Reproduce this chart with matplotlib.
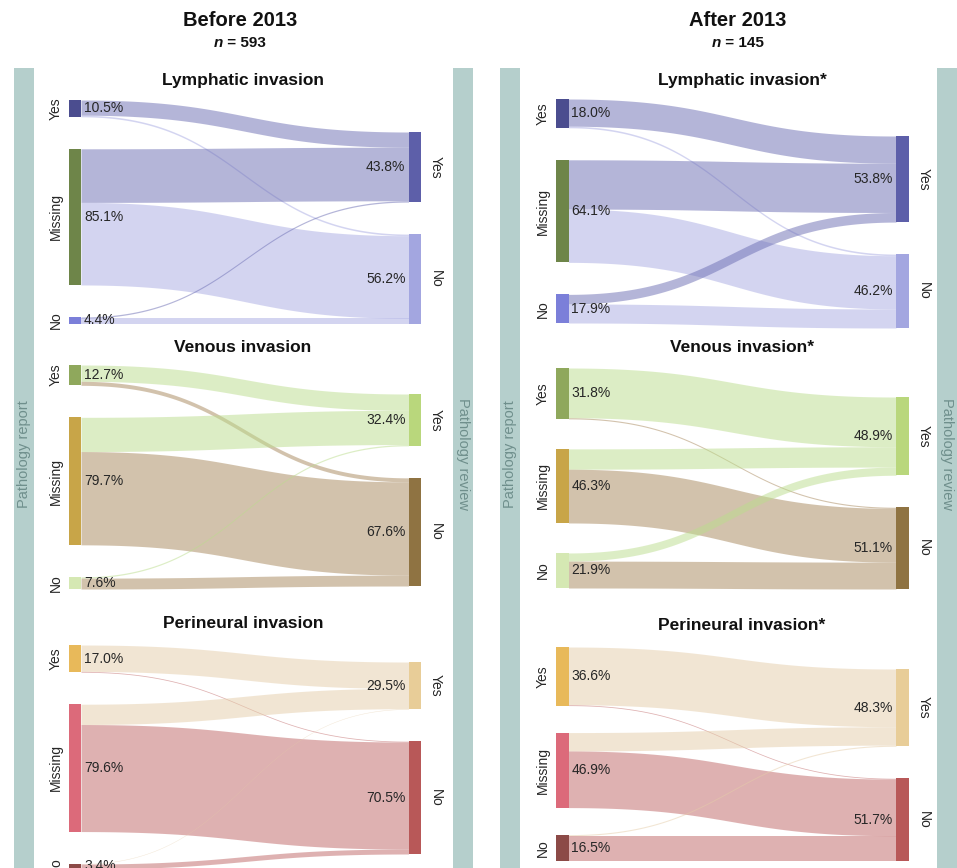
import numpy as np
import matplotlib
matplotlib.use("Agg")
import matplotlib.pyplot as plt
from matplotlib.offsetbox import TextArea, HPacker, AnnotationBbox

plt.rcParams['font.family'] = ['Liberation Sans', 'DejaVu Sans']

# ---------------- data ----------------
report_cats = ["Yes", "Missing", "No"]      # pathology report (left)
review_cats = ["Yes", "No"]                 # pathology review (right)

periods = ["Before 2013", "After 2013"]
period_n = [593, 145]
invasion_names = ["Lymphatic invasion", "Venous invasion", "Perineural invasion"]

# flows in % : rows = report Yes/Missing/No, cols = review Yes/No
lymph_before = [[9.5, 1.0], [33.5, 51.6], [0.8, 3.6]]
lymph_after = [[17.0, 1.0], [30.8, 33.3], [6.0, 11.9]]
venous_before = [[10.2, 2.5], [21.4, 58.3], [0.8, 6.8]]
venous_after = [[31.1, 0.7], [12.7, 33.6], [5.1, 16.8]]
perineural_before = [[16.5, 0.5], [12.7, 66.9], [0.3, 3.1]]
perineural_after = [[36.1, 0.5], [11.5, 35.4], [0.7, 15.8]]

flows = [[lymph_before, lymph_after],
         [venous_before, venous_after],
         [perineural_before, perineural_after]]
significant = [[False, True], [False, True], [False, True]]

# ---------------- styles ----------------
left_node_colors = [["#4b4d8f", "#6e8549", "#7b7fd9"],
                    ["#8fa85c", "#c8a548", "#d5e8b3"],
                    ["#e8b95a", "#dc6a7a", "#8c4a47"]]
right_node_colors = [["#5d5fa9", "#a3a6e0"],
                     ["#b9d77c", "#8f7342"],
                     ["#e8cd98", "#b85858"]]
link_colors = [["#6b6db3", "#a9abe3"],
               ["#bbdd8d", "#a7875b"],
               ["#e5cda9", "#bf6565"]]
band_color = "#b5cfcc"
band_text = "#6f8f8c"
txt = "#262626"

W, H = 957, 868
fig = plt.figure(figsize=(W / 100, H / 100), dpi=100)
ax = fig.add_axes([0, 0, 1, 1])
ax.set_xlim(0, W)
ax.set_ylim(H, 0)
ax.axis("off")

# layout (pixel space)
scale = 1.6
node_w = 12.5
panel_left_x = [68.5, 556]
panel_right_x = [408.5, 896]
panel_title_x = [240, 738]
panel_sub_x = [243, 742]
bands = [(14, 34, 453, 473), (500, 520, 937, 957)]
sub_y = [[80, 80], [348, 348], [623, 626]]
left_top = [[100, 99], [365, 368], [645, 647]]
right_top = [[132, 136], [394, 397], [662, 669]]
left_gap = [[32, 32], [32, 30], [32, 27]]
right_gap = 32

# bands
for p in range(2):
    lb0, lb1, rb0, rb1 = bands[p]
    ax.fill_between([lb0, lb1], 68, H, color=band_color, lw=0, zorder=0)
    ax.fill_between([rb0, rb1], 68, H, color=band_color, lw=0, zorder=0)
    ax.text((lb0 + lb1) / 2, 454, "Pathology report", rotation=90, ha="center",
            va="center", fontsize=10.5, color=band_text, zorder=5)
    ax.text((rb0 + rb1) / 2, 454, "Pathology review", rotation=270, ha="center",
            va="center", fontsize=10.5, color=band_text, zorder=5)
    # main titles
    ax.text(panel_title_x[p], 21, periods[p], ha="center", va="center",
            fontsize=14.5, fontweight="bold", color="#111111")
    ta1 = TextArea("n", textprops=dict(fontsize=11, fontweight="bold",
                                       fontstyle="italic", color="#111111"))
    ta2 = TextArea(" = %d" % period_n[p], textprops=dict(fontsize=11,
                                                         fontweight="bold", color="#111111"))
    box = HPacker(children=[ta1, ta2], pad=0, sep=0, align="baseline")
    ab = AnnotationBbox(box, (panel_title_x[p], 43), xycoords="data", frameon=False,
                        box_alignment=(0.5, 0.5))
    ax.add_artist(ab)


def bezier_band(x0, x1, ys0, yt0, h, color):
    t = np.linspace(0, 1, 120)
    xm = (x0 + x1) / 2
    xs = (1 - t) ** 3 * x0 + 3 * (1 - t) ** 2 * t * xm + 3 * (1 - t) * t ** 2 * xm + t ** 3 * x1
    yy = (1 - t) ** 3 * ys0 + 3 * (1 - t) ** 2 * t * ys0 + 3 * (1 - t) * t ** 2 * yt0 + t ** 3 * yt0
    ax.fill_between(xs, yy, yy + h, color=color, alpha=0.5, lw=0, zorder=1)


for r in range(3):
    for p in range(2):
        F = np.array(flows[r][p], dtype=float)
        lt = F.sum(axis=1)
        rt = F.sum(axis=0)
        xl = panel_left_x[p]
        xr = panel_right_x[p]
        # node positions
        ly = []
        y = left_top[r][p]
        for v in lt:
            ly.append(y)
            y += v * scale + left_gap[r][p]
        ry = []
        y = right_top[r][p]
        for v in rt:
            ry.append(y)
            y += v * scale + right_gap
        # links
        out_off = list(ly)
        in_off = list(ry)
        for i in range(3):
            for j in range(2):
                h = F[i, j] * scale
                if h <= 0:
                    continue
                bezier_band(xl + node_w, xr, out_off[i], in_off[j], h, link_colors[r][j])
                out_off[i] += h
                in_off[j] += h
        # nodes
        for i in range(3):
            h = lt[i] * scale
            ax.fill_between([xl, xl + node_w], ly[i], ly[i] + h,
                            color=left_node_colors[r][i], lw=0, zorder=3)
            ax.text(xl + node_w + 3, ly[i] + h / 2, "%.1f%%" % lt[i], ha="left",
                    va="center", fontsize=10, color=txt, zorder=5)
            ax.text(xl - 13, ly[i] + h / 2, report_cats[i], rotation=90, ha="center",
                    va="center", fontsize=10, color=txt, zorder=5)
        for j in range(2):
            h = rt[j] * scale
            ax.fill_between([xr, xr + node_w], ry[j], ry[j] + h,
                            color=right_node_colors[r][j], lw=0, zorder=3)
            ax.text(xr - 3, ry[j] + h / 2, "%.1f%%" % rt[j], ha="right",
                    va="center", fontsize=10, color=txt, zorder=5)
            ax.text(xr + node_w + 15, ry[j] + h / 2, review_cats[j], rotation=270,
                    ha="center", va="center", fontsize=10, color=txt, zorder=5)
        title = invasion_names[r] + ("*" if significant[r][p] else "")
        ax.text(panel_sub_x[p], sub_y[r][p], title, ha="center", va="center",
                fontsize=12.5, fontweight="bold", color="#111111", zorder=5)

fig.savefig("out.png", dpi=100)
